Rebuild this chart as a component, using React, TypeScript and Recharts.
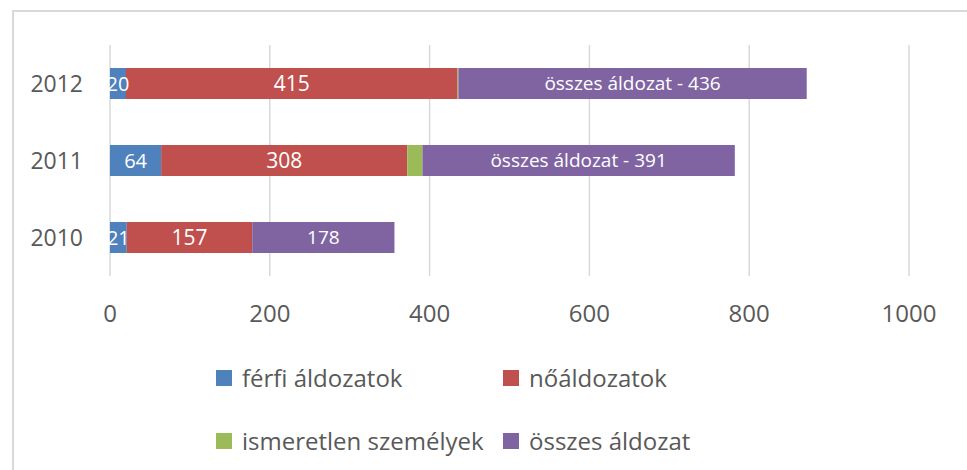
import React from 'react';
import { BarChart, Bar, XAxis, YAxis, CartesianGrid, LabelList, Legend } from 'recharts';

const years = ['2012', '2011', '2010'];
const ferfiValues = [20, 64, 21];
const noValues = [415, 308, 157];
const ismeretlenValues = [1, 19, 0];
const osszesValues = [436, 391, 178];
const osszesLabels = ['összes áldozat - 436', 'összes áldozat - 391', '178'];
const xTicks = [0, 200, 400, 600, 800, 1000];
const seriesNames = ['férfi áldozatok', 'nőáldozatok', 'ismeretlen személyek', 'összes áldozat'];

const COLORS = ['#4F81BD', '#C0504D', '#9BBB59', '#8064A2'];
const FONT = '"Open Sans", "Noto Sans", sans-serif';

const data = years.map((y, i) => ({
  year: y,
  ferfi: ferfiValues[i],
  no: noValues[i],
  ismeretlen: ismeretlenValues[i],
  osszes: osszesValues[i],
  osszesLabel: osszesLabels[i],
}));

const LegendContent = () => {
  const colLeft = [216, 503];
  const rowTop = [0, 63];
  return (
    <div style={{ position: 'relative', width: 967, height: 100, fontFamily: FONT }}>
      {seriesNames.map((name, i) => (
        <div
          key={name}
          style={{
            position: 'absolute',
            left: colLeft[i % 2],
            top: rowTop[Math.floor(i / 2)],
            height: 30,
            display: 'flex',
            alignItems: 'center',
            whiteSpace: 'nowrap',
          }}
        >
          <span style={{ display: 'inline-block', width: 16, height: 16, background: COLORS[i], marginRight: 10 }} />
          <span style={{ fontSize: 24, color: '#595959', lineHeight: '30px' }}>{name}</span>
        </div>
      ))}
    </div>
  );
};

export default function App() {
  return (
    <div style={{ position: 'absolute', left: 0, top: 0, width: 967, height: 470, background: '#fff', overflow: 'hidden', fontFamily: FONT }}>
      <div style={{ position: 'absolute', left: 12, top: 10, width: 980, height: 480, border: '2px solid #d9d9d9', boxSizing: 'border-box' }} />
      <div style={{ position: 'absolute', left: 0, top: 0 }}>
        <BarChart
          width={967}
          height={470}
          data={data}
          layout="vertical"
          margin={{ top: 45, right: 58, bottom: 134, left: 0 }}
          barCategoryGap="30%"
        >
          <CartesianGrid horizontal={false} stroke="#d9d9d9" strokeWidth={1.5} />
          <XAxis
            type="number"
            domain={[0, 1000]}
            ticks={xTicks}
            axisLine={false}
            tickLine={false}
            tickSize={0}
            tickMargin={29}
            height={60}
            tick={{ fill: '#595959', fontSize: 24 }}
            interval={0}
          />
          <YAxis
            type="category"
            dataKey="year"
            width={110}
            axisLine={false}
            tickLine={false}
            tickSize={0}
            tickMargin={27}
            tick={{ fill: '#595959', fontSize: 23 }}
          />
          <Legend
            layout="horizontal"
            verticalAlign="middle"
            align="center"
            wrapperStyle={{ position: 'absolute', left: 0, top: 363, width: 967 }}
            content={() => <LegendContent />}
          />
          <Bar dataKey="ferfi" stackId="a" fill={COLORS[0]} barSize={31} isAnimationActive={false}>
            <LabelList dataKey="ferfi" position="center" fill="#ffffff" fontSize={20} />
          </Bar>
          <Bar dataKey="no" stackId="a" fill={COLORS[1]} barSize={31} isAnimationActive={false}>
            <LabelList dataKey="no" position="center" fill="#ffffff" fontSize={21} />
          </Bar>
          <Bar dataKey="ismeretlen" stackId="a" fill={COLORS[2]} barSize={31} isAnimationActive={false} />
          <Bar dataKey="osszes" stackId="a" fill={COLORS[3]} barSize={31} isAnimationActive={false}>
            <LabelList dataKey="osszesLabel" position="center" fill="#ffffff" fontSize={19} />
          </Bar>
        </BarChart>
      </div>
    </div>
  );
}
